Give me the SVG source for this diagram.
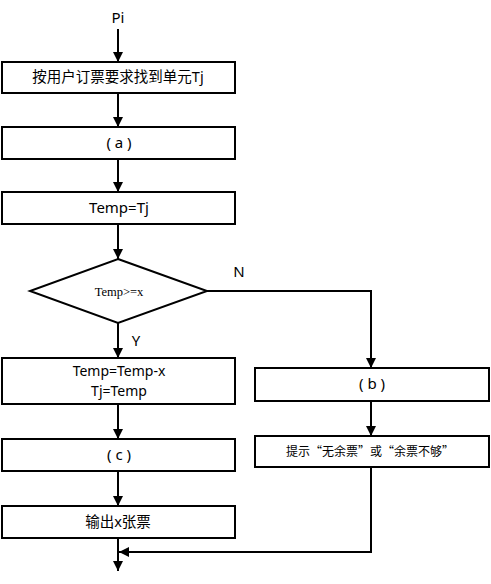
<svg xmlns="http://www.w3.org/2000/svg" width="491" height="584" viewBox="0 0 491 584">
<defs>
<marker id="ah" markerWidth="10" markerHeight="10" refX="10" refY="5" orient="auto" markerUnits="userSpaceOnUse">
<path d="M0,0 L10,5 L0,10 Z" fill="#000"/>
</marker>
<style>
.box{fill:#fff;stroke:#000;stroke-width:2}
.ln{fill:none;stroke:#000;stroke-width:2}
.t{font-family:"Noto Sans","Noto Sans CJK SC",sans-serif;font-size:15px;fill:#000;text-anchor:middle}
.m{font-family:"Noto Sans","Noto Sans CJK SC",sans-serif;font-size:14px;fill:#000;text-anchor:middle}
.c{font-family:"Noto Sans","Noto Sans CJK SC",sans-serif;font-size:14.5px;fill:#000;text-anchor:middle}
.s{font-family:"Noto Sans CJK SC",sans-serif;font-size:12px;fill:#000;text-anchor:middle}
.d{font-family:"Liberation Serif","Noto Sans CJK SC",serif;font-size:12.5px;fill:#000;text-anchor:middle}
</style>
</defs>
<rect width="491" height="584" fill="#fff"/>
<text class="t" x="118" y="23">Pi</text>
<g id="connectors">
<line class="ln" x1="118" y1="29" x2="118" y2="62" marker-end="url(#ah)"/>
<line class="ln" x1="118" y1="93" x2="118" y2="127" marker-end="url(#ah)"/>
<line class="ln" x1="118" y1="159" x2="118" y2="192" marker-end="url(#ah)"/>
<line class="ln" x1="118" y1="224" x2="118" y2="259" marker-end="url(#ah)"/>
<line class="ln" x1="118" y1="323" x2="118" y2="358" marker-end="url(#ah)"/>
<polyline class="ln" points="207,291 371,291 371,368" marker-end="url(#ah)"/>
<line class="ln" x1="371" y1="401" x2="371" y2="436" marker-end="url(#ah)"/>
<line class="ln" x1="118" y1="404" x2="118" y2="439" marker-end="url(#ah)"/>
<line class="ln" x1="118" y1="471" x2="118" y2="506" marker-end="url(#ah)"/>
<line class="ln" x1="118" y1="538" x2="118" y2="571" marker-end="url(#ah)"/>
<polyline class="ln" points="371,467 371,552 119,552" marker-end="url(#ah)"/>
<text class="t" x="239" y="277">N</text>
<text class="t" x="136" y="346">Y</text>
</g>
<g id="n1"><rect class="box" x="2" y="62" width="233" height="31"/><text class="c" x="118" y="82">按用户订票要求找到单元Tj</text></g>
<g id="n2"><rect class="box" x="2" y="127" width="233" height="32"/><text class="t" x="119" y="148">( a )</text></g>
<g id="n3"><rect class="box" x="2" y="192" width="233" height="32"/><text class="t" x="119" y="213">Temp=Tj</text></g>
<g id="n4"><polygon class="box" points="118,259 207,291 118,323 30,291"/><text class="d" x="119" y="296">Temp&gt;=x</text></g>
<g id="n5"><rect class="box" x="2" y="358" width="233" height="46"/><text class="m" x="119" y="376">Temp=Temp-x</text><text class="m" x="119" y="396">Tj=Temp</text></g>
<g id="n6"><rect class="box" x="255" y="368" width="234" height="33"/><text class="t" x="372" y="389">( b )</text></g>
<g id="n7"><rect class="box" x="255" y="436" width="234" height="31"/><text class="s" x="370" y="456">提示“无余票”或“余票不够”</text></g>
<g id="n8"><rect class="box" x="2" y="439" width="233" height="32"/><text class="t" x="119" y="460">( c )</text></g>
<g id="n9"><rect class="box" x="2" y="506" width="233" height="32"/><text class="c" x="118" y="527">输出x张票</text></g>
</svg>
